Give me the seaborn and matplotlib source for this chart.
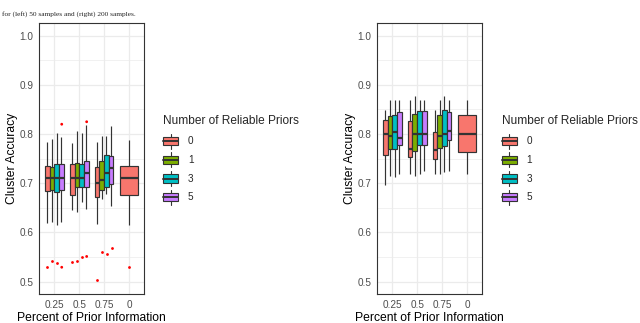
# recreate the two cluster-accuracy boxplot panels (50 vs 200 samples)
import numpy as np
import pandas as pd
import matplotlib
matplotlib.use("Agg")
import matplotlib.pyplot as plt
import seaborn as sns
from matplotlib.patches import Rectangle
from matplotlib.lines import Line2D
from matplotlib.legend_handler import HandlerBase

x_order = ["0.25", "0.5", "0.75", "0"]
hue_order = ["0", "1", "3", "5"]
colors = ["#F8766D", "#7CAE00", "#00BFC4", "#C77CFF"]

# one entry per box: 4 priors levels for 0.25 / 0.5 / 0.75, then the lone "0" box
group_pct = ["0.25"] * 4 + ["0.5"] * 4 + ["0.75"] * 4 + ["0"]
group_priors = hue_order * 3 + ["0"]

# left panel: 50 samples
left_lo = [0.620, 0.621, 0.614, 0.621, 0.645, 0.641, 0.662, 0.648, 0.616, 0.668, 0.678, 0.653, 0.614]
left_q1 = [0.685, 0.686, 0.682, 0.686, 0.676, 0.692, 0.692, 0.692, 0.672, 0.687, 0.693, 0.699, 0.676]
left_med = [0.710, 0.710, 0.710, 0.710, 0.710, 0.710, 0.710, 0.720, 0.700, 0.707, 0.720, 0.730, 0.710]
left_q3 = [0.735, 0.732, 0.740, 0.740, 0.740, 0.741, 0.740, 0.745, 0.732, 0.745, 0.757, 0.755, 0.735]
left_hi = [0.784, 0.789, 0.802, 0.793, 0.781, 0.807, 0.803, 0.818, 0.784, 0.797, 0.797, 0.816, 0.788]

left_out_pct = ["0.25", "0.25", "0.25", "0.25", "0.25", "0.5", "0.5", "0.5", "0.5", "0.5",
                "0.75", "0.75", "0.75", "0.75", "0"]
left_out_priors = ["0", "1", "3", "5", "5", "0", "1", "3", "5", "5", "0", "1", "3", "5", "0"]
left_out_val = [0.529, 0.541, 0.537, 0.529, 0.820, 0.539, 0.541, 0.549, 0.551, 0.825,
                0.503, 0.561, 0.555, 0.569, 0.529]

# right panel: 200 samples
right_lo = [0.696, 0.715, 0.712, 0.718, 0.718, 0.715, 0.718, 0.725, 0.718, 0.718, 0.722, 0.725, 0.718]
right_q1 = [0.758, 0.770, 0.770, 0.778, 0.753, 0.765, 0.778, 0.778, 0.749, 0.772, 0.776, 0.787, 0.763]
right_med = [0.800, 0.796, 0.804, 0.792, 0.770, 0.800, 0.800, 0.800, 0.767, 0.797, 0.800, 0.807, 0.800]
right_q3 = [0.829, 0.837, 0.839, 0.844, 0.826, 0.840, 0.847, 0.847, 0.805, 0.839, 0.849, 0.845, 0.839]
right_hi = [0.849, 0.870, 0.870, 0.870, 0.870, 0.877, 0.870, 0.870, 0.849, 0.870, 0.877, 0.870, 0.870]

y_ticks = [0.5, 0.6, 0.7, 0.8, 0.9, 1.0]
y_ticklabels = ["0.5", "0.6", "0.7", "0.8", "0.9", "1.0"]


def box_frame(lo, q1, med, q3, hi):
    rows = []
    for i in range(len(group_pct)):
        for v in (lo[i], q1[i], med[i], q3[i], hi[i]):
            rows.append({"pct": group_pct[i], "priors": group_priors[i], "acc": v})
    return pd.DataFrame(rows)


class BoxKey(HandlerBase):
    def create_artists(self, legend, orig_handle, xdescent, ydescent,
                       width, height, fontsize, trans):
        x0, y0 = -xdescent, -ydescent
        fc = orig_handle.get_facecolor()
        cx = x0 + width / 2
        w1 = Line2D([cx, cx], [y0, y0 + height], color="#333333", lw=0.8, transform=trans)
        box = Rectangle((x0, y0 + 0.22 * height), width, 0.56 * height,
                        facecolor=fc, edgecolor="#333333", lw=0.8, transform=trans)
        med = Line2D([x0, x0 + width], [y0 + height / 2] * 2, color="#333333", lw=1.4,
                     transform=trans)
        return [w1, box, med]


def draw_panel(fig, rect, lo, q1, med, q3, hi, out=None, legend_x=0.0):
    ax = fig.add_axes(rect)
    df = box_frame(lo, q1, med, q3, hi)
    dodged = df[df["pct"] != "0"]
    single = df[df["pct"] == "0"]
    common = dict(x="pct", y="acc", order=x_order, width=0.75, whis=(0, 100),
                  showfliers=False, showcaps=False, saturation=1, linecolor="#333333",
                  linewidth=0.85, medianprops={"linewidth": 1.6}, ax=ax)
    sns.boxplot(data=dodged, hue="priors", hue_order=hue_order, palette=colors,
                legend=False, **common)
    sns.boxplot(data=single, color=colors[0], **common)

    if out is not None:
        od = out[out["pct"] != "0"]
        os_ = out[out["pct"] == "0"]
        sns.stripplot(data=od, x="pct", y="acc", hue="priors", order=x_order,
                      hue_order=hue_order, palette=["red"] * 4, dodge=True, jitter=False,
                      size=2.0, linewidth=0, legend=False, ax=ax)
        sns.stripplot(data=os_, x="pct", y="acc", order=x_order, color="red",
                      jitter=False, size=2.0, linewidth=0, ax=ax)

    ax.set_xlim(-0.6, 3.6)
    ax.set_ylim(0.474, 1.026)
    ax.set_yticks(y_ticks)
    ax.set_yticklabels(y_ticklabels)
    ax.set_yticks(np.arange(0.55, 1.0, 0.1), minor=True)
    ax.set_xticks(range(len(x_order)))
    ax.set_xticklabels(x_order)
    ax.set_facecolor("white")
    ax.grid(True, which="major", color="#EBEBEB", linewidth=0.9)
    ax.grid(True, which="minor", axis="y", color="#EBEBEB", linewidth=0.5)
    ax.set_axisbelow(True)
    for s in ax.spines.values():
        s.set_color("#333333")
        s.set_linewidth(0.8)
    ax.tick_params(which="major", length=2.5, width=0.6, color="#333333",
                   labelsize=7.2, labelcolor="#4D4D4D", pad=1.5)
    ax.tick_params(which="minor", length=0)
    ax.set_xlabel("Percent of Prior Information", fontsize=8.7, color="black")
    ax.set_ylabel("Cluster Accuracy", fontsize=8.7, color="black")
    ax.xaxis.set_label_coords(0.5, -0.087)
    ax.xaxis.label.set_va("center")
    ax.yaxis.set_label_coords(-0.265, 0.5)
    ax.yaxis.label.set_va("center")

    handles = [Rectangle((0, 0), 1, 1, facecolor=c) for c in colors]
    leg = fig.legend(handles, hue_order, handler_map={Rectangle: BoxKey()},
                     loc="upper left", bbox_to_anchor=(legend_x, 0.643),
                     bbox_transform=fig.transFigure, frameon=False,
                     title="Number of Reliable Priors", alignment="left",
                     fontsize=7.2, title_fontsize=8.6, handlelength=1.5,
                     handleheight=1.93, labelspacing=0.37, handletextpad=1.0,
                     borderpad=0, borderaxespad=0)
    # a bit more room between the legend title and the first key
    leg._legend_box.sep = 4.6
    return ax


def main() -> None:
    sns.set_theme(style="white")
    plt.rcParams["font.family"] = ["Liberation Sans", "DejaVu Sans"]

    fig = plt.figure(figsize=(6.4, 3.23), dpi=100)
    fig.patch.set_facecolor("white")

    out_left = pd.DataFrame({"pct": left_out_pct, "priors": left_out_priors,
                             "acc": left_out_val})

    draw_panel(fig, [0.0614, 0.0889, 0.1636, 0.840],
               left_lo, left_q1, left_med, left_q3, left_hi,
               out=out_left, legend_x=0.2547)
    draw_panel(fig, [0.5895, 0.0889, 0.1636, 0.840],
               right_lo, right_q1, right_med, right_q3, right_hi,
               legend_x=0.7839)

    fig.text(0.003, 1 - 16 / 323, "for (left) 50 samples and (right) 200 samples.",
             family="Liberation Serif", fontsize=5.3, va="baseline", ha="left")

    fig.savefig("out.png", dpi=100)


if __name__ == "__main__":
    main()
